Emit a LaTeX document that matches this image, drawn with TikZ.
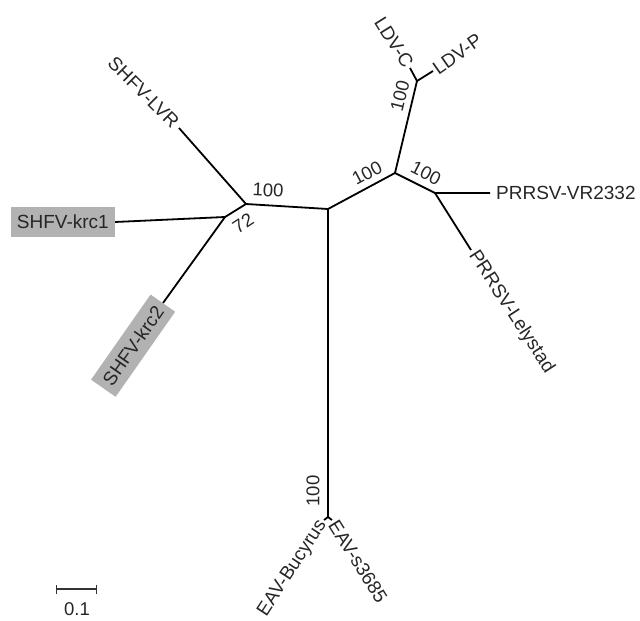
\documentclass[tikz,border=0pt]{standalone}
\usepackage{fontspec}
\setmainfont{Liberation Sans}
\usetikzlibrary{arrows.meta}
\begin{document}
\begin{tikzpicture}[x=1pt,y=-1pt,
  br/.style={line width=1.8pt,black},
  lab/.style={inner sep=4pt,font=\fontsize{19}{22}\selectfont,text=black!85},
  boot/.style={inner sep=0pt,font=\fontsize{18.5}{22}\selectfont,text=black!85},
  hl/.style={lab,fill=black!30,inner xsep=6pt,minimum height=30pt}]
\useasboundingbox (0,0) rectangle (640,621);
% internal nodes
\coordinate (C) at (328,209);
\coordinate (L1) at (246,204);
\coordinate (L2) at (225,217);
\coordinate (R1) at (395,173);
\coordinate (R2) at (435,193);
\coordinate (LDV) at (417,81);
\coordinate (EAV) at (328,517);
% tips
\coordinate (tLVR) at (179,128);
\coordinate (tK1) at (115,222);
\coordinate (tK2) at (163,303);
\coordinate (tLC) at (410,68);
\coordinate (tLP) at (433,71);
\coordinate (tVR) at (490,193);
\coordinate (tLe) at (471,250);
\coordinate (tBu) at (324,520);
\coordinate (tS3) at (332,520);
% branches
\draw[br] (C) -- (L1) -- (tLVR);
\draw[br] (L1) -- (L2) -- (tK1);
\draw[br] (L2) -- (tK2);
\draw[br] (C) -- (R1) -- (R2) -- (tVR);
\draw[br] (R2) -- (tLe);
\draw[br] (R1) -- (LDV) -- (tLC);
\draw[br] (LDV) -- (tLP);
\draw[br] (C) -- (EAV) -- (tBu);
\draw[br] (EAV) -- (tS3);
% leaf labels
\node[lab,anchor=east,rotate=-45] (nLVR) at (tLVR) {SHFV-LVR};
\node[hl,anchor=east] (nK1) at (tK1) {SHFV-krc1};
\node[hl,anchor=east,rotate=55,inner sep=3pt,inner xsep=6pt] (nK2) at (tK2) {SHFV-krc2};
\node[lab,anchor=east,rotate=-58,inner sep=2pt] (nLC) at (tLC) {LDV-C};
\node[lab,anchor=west,rotate=35,inner sep=2pt] (nLP) at (tLP) {LDV-P};
\node[lab,anchor=west,inner sep=6pt] (nVR) at (tVR) {PRRSV-VR2332};
\node[lab,anchor=west,rotate=-57,inner sep=3pt] (nLe) at (tLe) {PRRSV-Lelystad};
\node[lab,anchor=east,rotate=57,inner sep=2pt] (nBu) at (tBu) {EAV-Bucyrus};
\node[lab,anchor=west,rotate=-58,inner sep=2pt] (nS3) at (tS3) {EAV-s3685};
% bootstrap values
\node[boot,rotate=-3] (b1) at (268,190) {100};
\node[boot,rotate=33] (b2) at (243,223) {72};
\node[boot,rotate=28] (b3) at (367,173) {100};
\node[boot,rotate=-27] (b4) at (426,173) {100};
\node[boot,rotate=76] (b5) at (400,96) {100};
\node[boot,rotate=90] (b6) at (313,491) {100};
% scale bar
\coordinate (s1) at (56,589);
\coordinate (s2) at (97,589);
\draw[line width=1.3pt,black!80,{Bar[width=9pt]}-{Bar[width=9pt]}] (s1) -- (s2);
\node[boot] (sc) at (77,609) {0.1};
\end{tikzpicture}
\end{document}
